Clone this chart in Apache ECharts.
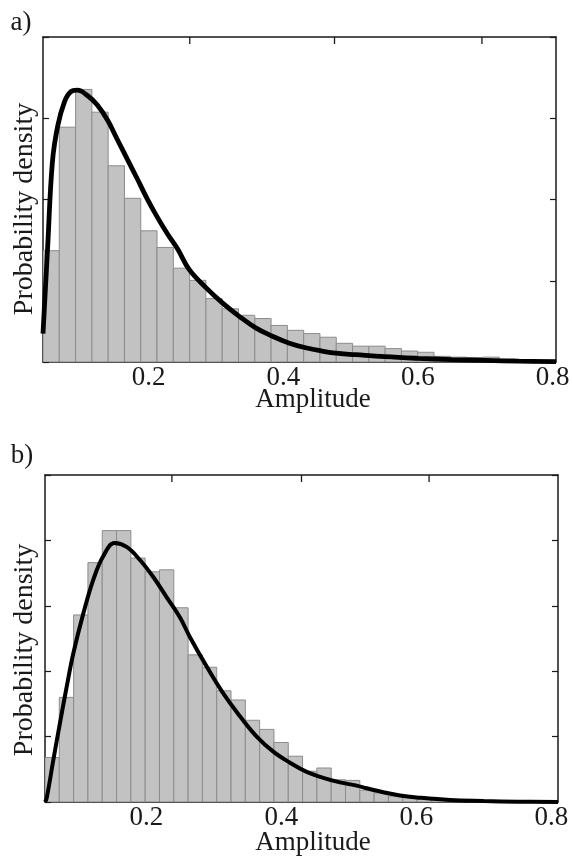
<!DOCTYPE html>
<html>
<head>
<meta charset="utf-8">
<script src="https://cdn.jsdelivr.net/npm/echarts@6/dist/echarts.min.js"></script>
<style>
  html, body { margin: 0; padding: 0; background: #fff; }
  #main { width: 573px; height: 859px; }
</style>
</head>
<body>
<div id="main"></div>
<script>
// panel a) histogram: bins start at binStartA, each binWidthA wide
const binStartA = 0.043;
const binWidthA = 0.0242;
const histA = [2.74, 5.78, 6.71, 6.15, 4.83, 4.03, 3.23, 2.82, 2.31, 2.01,
  1.56, 1.31, 1.15, 1.07, 0.90, 0.78, 0.70, 0.61, 0.46, 0.39,
  0.39, 0.33, 0.27, 0.24, 0.14, 0.12, 0.11, 0.12, 0.07];
// fitted density curve a) [amplitude, density]
const curveA = [
  [0.043, 0.70], [0.050, 2.86], [0.057, 4.93], [0.065, 5.82], [0.075, 6.41],
  [0.084, 6.65], [0.094, 6.69], [0.109, 6.56], [0.124, 6.32], [0.139, 5.95],
  [0.153, 5.49], [0.168, 5.00], [0.183, 4.51], [0.198, 4.01], [0.213, 3.56],
  [0.228, 3.15], [0.243, 2.78], [0.260, 2.28], [0.285, 1.83], [0.309, 1.46],
  [0.334, 1.13], [0.359, 0.84], [0.383, 0.64], [0.408, 0.47], [0.433, 0.35],
  [0.457, 0.27], [0.482, 0.21], [0.507, 0.18], [0.55, 0.13], [0.60, 0.09],
  [0.65, 0.06], [0.70, 0.04], [0.75, 0.02], [0.805, 0.01]
];

// panel b)
const binStartB = 0.05;
const binWidthB = 0.0212;
const histB = [0.68, 1.60, 2.86, 3.66, 4.15, 4.15, 3.73, 3.52, 3.55, 2.97,
  2.25, 2.06, 1.70, 1.56, 1.25, 1.11, 0.91, 0.70, 0.47, 0.52,
  0.34, 0.33, 0.18, 0.14, 0.09, 0.07, 0.05, 0.035, 0.02, 0.01];
const curveB = [
  [0.050, 0.0], [0.0525, 0.06], [0.0623, 0.64], [0.0722, 1.21], [0.0821, 1.76],
  [0.0919, 2.27], [0.1067, 2.88], [0.1216, 3.40], [0.1364, 3.76], [0.1530, 3.96],
  [0.171, 3.90], [0.1907, 3.70], [0.2104, 3.44], [0.2303, 3.13], [0.25, 2.82],
  [0.2648, 2.52], [0.2896, 2.07], [0.3141, 1.66], [0.3389, 1.31], [0.3636, 1.00],
  [0.3882, 0.77], [0.413, 0.60], [0.4377, 0.46], [0.4623, 0.37], [0.487, 0.30],
  [0.5118, 0.25], [0.5266, 0.21], [0.5512, 0.15], [0.5759, 0.10], [0.6007, 0.07],
  [0.65, 0.03], [0.70, 0.015], [0.75, 0.005], [0.81, 0.0]
];

// axis ranges and ticks
const xRangeA = [0.043, 0.805];
const xRangeB = [0.05, 0.81];
const yMaxA = 8;
const yMaxB = 5;
const xLabels = [0.2, 0.4, 0.6, 0.8];
// unlabelled ticks along the top frame (they do not line up with the labels)
const topTicksA = [0.261, 0.476, 0.695];
const topTicksB = [0.238, 0.430, 0.619];

const serif = '"Liberation Serif", "Times New Roman", serif';
const ink = '#1a1a1a';

const chart = echarts.init(document.getElementById('main'));

function histSeries(heights, start, width, idx) {
  return {
    type: 'custom',
    xAxisIndex: idx * 2,
    yAxisIndex: idx * 2,
    clip: true,
    data: heights.map((h, i) => [start + i * width, start + (i + 1) * width, h]),
    encode: { x: [0, 1], y: 2 },
    renderItem: (params, api) => {
      const p0 = api.coord([api.value(0), 0]);
      const p1 = api.coord([api.value(1), api.value(2)]);
      return {
        type: 'rect',
        shape: { x: p0[0], y: p1[1], width: p1[0] - p0[0], height: p0[1] - p1[1] },
        style: { fill: '#c2c2c2', stroke: '#8c8c8c', lineWidth: 1 }
      };
    }
  };
}

function curveSeries(points, idx, w) {
  return {
    type: 'line',
    xAxisIndex: idx * 2,
    yAxisIndex: idx * 2,
    data: points,
    smooth: 0.4,
    showSymbol: false,
    lineStyle: { color: '#000', width: w },
    z: 5
  };
}

const frame = () => ({ show: true, onZero: false, lineStyle: { color: ink, width: 1.5 } });
const innerTick = () => ({ show: true, inside: true, length: 6, lineStyle: { color: ink, width: 1.2 } });
const blankLabel = () => ({ show: true, formatter: () => '' });

function bottomX(grid, range) {
  return {
    type: 'value', gridIndex: grid, position: 'bottom', min: range[0], max: range[1],
    axisLine: frame(),
    axisTick: { show: false },
    splitLine: { show: false },
    axisLabel: {
      customValues: xLabels, margin: 2, color: ink,
      fontFamily: serif, fontSize: 27, hideOverlap: false,
      formatter: v => v.toFixed(1)
    }
  };
}

function topX(grid, range) {
  return {
    type: 'value', gridIndex: grid, position: 'top', min: range[0], max: range[1],
    axisLine: frame(),
    axisTick: { show: false },
    axisLabel: { show: false },
    splitLine: { show: false }
  };
}

function sideY(grid, pos, max, step) {
  return {
    type: 'value', gridIndex: grid, position: pos, min: 0, max: max, interval: step,
    axisLine: frame(),
    axisTick: innerTick(),
    axisLabel: blankLabel(),
    splitLine: { show: false }
  };
}

const textStyle = (text, size) => ({ text: text, font: size + 'px ' + serif, fill: ink, textAlign: 'center', textVerticalAlign: 'middle' });

const texts = [
  { id: 'ta', type: 'text', x: 21, y: 23, style: textStyle('a)', 27) },
  { id: 'tb', type: 'text', x: 22, y: 456, style: textStyle('b)', 27) },
  { id: 'xa', type: 'text', x: 313, y: 400, style: textStyle('Amplitude', 27) },
  { id: 'xb', type: 'text', x: 313, y: 843, style: textStyle('Amplitude', 27) },
  { id: 'ya', type: 'text', x: 25, y: 209, rotation: Math.PI / 2, style: textStyle('Probability density', 28) },
  { id: 'yb', type: 'text', x: 25, y: 650, rotation: Math.PI / 2, style: textStyle('Probability density', 28) }
];

const option = {
  backgroundColor: '#fff',
  animation: false,
  grid: [
    { left: 43, top: 37, width: 513, height: 325 },
    { left: 45, top: 475, width: 513, height: 327 }
  ],
  xAxis: [
    bottomX(0, xRangeA), topX(0, xRangeA),
    bottomX(1, xRangeB), topX(1, xRangeB)
  ],
  yAxis: [
    sideY(0, 'left', yMaxA, 2), sideY(0, 'right', yMaxA, 2),
    sideY(1, 'left', yMaxB, 1), sideY(1, 'right', yMaxB, 1)
  ],
  graphic: texts,
  series: [
    histSeries(histA, binStartA, binWidthA, 0),
    curveSeries(curveA, 0, 4.8),
    histSeries(histB, binStartB, binWidthB, 1),
    curveSeries(curveB, 1, 4)
  ]
};

chart.setOption(option);

// top-frame ticks: positions come from the chart's own x/y scales
function topTickMarks(ticks, idx, yMax, prefix) {
  return ticks.map((v, i) => {
    const p = chart.convertToPixel({ xAxisIndex: idx * 2, yAxisIndex: idx * 2 }, [v, yMax]);
    return {
      id: prefix + i, type: 'line', z: 100,
      shape: { x1: p[0], y1: p[1], x2: p[0], y2: p[1] + 7 },
      style: { stroke: ink, lineWidth: 1.3 }
    };
  });
}

chart.setOption({
  graphic: texts.concat(
    topTickMarks(topTicksA, 0, yMaxA, 'tka'),
    topTickMarks(topTicksB, 1, yMaxB, 'tkb')
  )
});
</script>
</body>
</html>
